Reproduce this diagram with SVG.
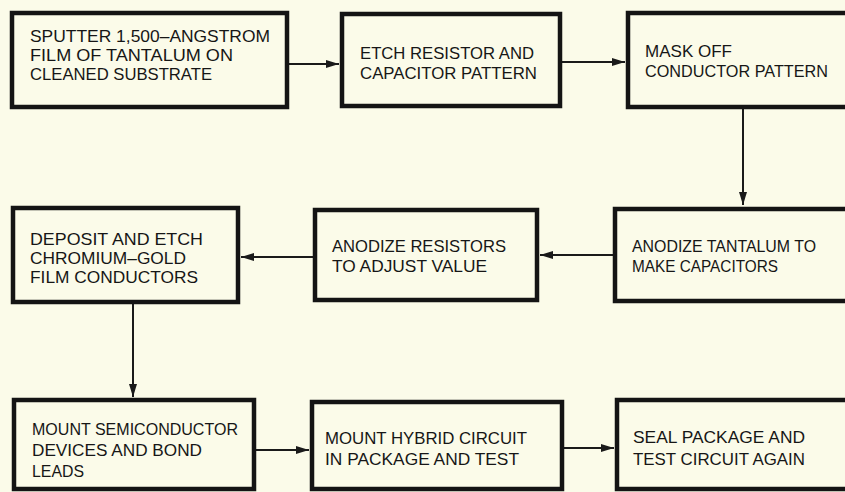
<svg xmlns="http://www.w3.org/2000/svg" width="845" height="492" viewBox="0 0 845 492">
<defs>
<style>
.box{fill:#fbfbe9;stroke:#141414;stroke-width:4.5}
.lbl{font-family:"Liberation Sans",Arial,sans-serif;font-size:17px;fill:#161616}
.conn{stroke:#1a1a1a;stroke-width:2;fill:none}
</style>
<marker id="ah" markerUnits="userSpaceOnUse" markerWidth="14" markerHeight="10" refX="13" refY="4" orient="auto">
<path d="M0,0 L13,4 L0,8 z" fill="#1a1a1a"/>
</marker>
</defs>
<rect width="845" height="492" fill="#fbfbe9"/>
<g id="connectors">
<line class="conn" x1="289" y1="64" x2="339" y2="64" marker-end="url(#ah)"/>
<line class="conn" x1="562" y1="62" x2="625" y2="62" marker-end="url(#ah)"/>
<line class="conn" x1="743" y1="109" x2="743" y2="205" marker-end="url(#ah)"/>
<line class="conn" x1="613" y1="255" x2="540" y2="255" marker-end="url(#ah)"/>
<line class="conn" x1="313" y1="257" x2="241" y2="257" marker-end="url(#ah)"/>
<line class="conn" x1="133" y1="304" x2="133" y2="397" marker-end="url(#ah)"/>
<line class="conn" x1="256" y1="450" x2="309" y2="450" marker-end="url(#ah)"/>
<line class="conn" x1="564" y1="448" x2="614" y2="448" marker-end="url(#ah)"/>
</g>
<g id="n1">
<rect class="box" x="12" y="13" width="275" height="94"/>
<text class="lbl" x="30" y="42" textLength="240" lengthAdjust="spacingAndGlyphs">SPUTTER 1,500–ANGSTROM</text>
<text class="lbl" x="30" y="61" textLength="203" lengthAdjust="spacingAndGlyphs">FILM OF TANTALUM ON</text>
<text class="lbl" x="30" y="80" textLength="182" lengthAdjust="spacingAndGlyphs">CLEANED SUBSTRATE</text>
</g>
<g id="n2">
<rect class="box" x="342" y="14" width="218" height="92"/>
<text class="lbl" x="360" y="59" textLength="174" lengthAdjust="spacingAndGlyphs">ETCH RESISTOR AND</text>
<text class="lbl" x="360" y="79" textLength="177" lengthAdjust="spacingAndGlyphs">CAPACITOR PATTERN</text>
</g>
<g id="n3">
<rect class="box" x="628" y="13" width="222" height="94"/>
<text class="lbl" x="645" y="57" textLength="87" lengthAdjust="spacingAndGlyphs">MASK OFF</text>
<text class="lbl" x="645" y="77" textLength="183" lengthAdjust="spacingAndGlyphs">CONDUCTOR PATTERN</text>
</g>
<g id="n4">
<rect class="box" x="13" y="208" width="225" height="94"/>
<text class="lbl" x="30" y="245" textLength="173" lengthAdjust="spacingAndGlyphs">DEPOSIT AND ETCH</text>
<text class="lbl" x="30" y="264" textLength="156" lengthAdjust="spacingAndGlyphs">CHROMIUM–GOLD</text>
<text class="lbl" x="30" y="283" textLength="168" lengthAdjust="spacingAndGlyphs">FILM CONDUCTORS</text>
</g>
<g id="n5">
<rect class="box" x="315" y="210" width="222" height="90"/>
<text class="lbl" x="332" y="252" textLength="174" lengthAdjust="spacingAndGlyphs">ANODIZE RESISTORS</text>
<text class="lbl" x="332" y="272" textLength="155" lengthAdjust="spacingAndGlyphs">TO ADJUST VALUE</text>
</g>
<g id="n6">
<rect class="box" x="615" y="209" width="235" height="92"/>
<text class="lbl" x="632" y="252" textLength="184" lengthAdjust="spacingAndGlyphs">ANODIZE TANTALUM TO</text>
<text class="lbl" x="632" y="272" textLength="146" lengthAdjust="spacingAndGlyphs">MAKE CAPACITORS</text>
</g>
<g id="n7">
<rect class="box" x="14" y="400" width="240" height="89"/>
<text class="lbl" x="32" y="435" textLength="206" lengthAdjust="spacingAndGlyphs">MOUNT SEMICONDUCTOR</text>
<text class="lbl" x="32" y="456" textLength="170" lengthAdjust="spacingAndGlyphs">DEVICES AND BOND</text>
<text class="lbl" x="32" y="477" textLength="52" lengthAdjust="spacingAndGlyphs">LEADS</text>
</g>
<g id="n8">
<rect class="box" x="312" y="402" width="250" height="87"/>
<text class="lbl" x="325" y="444" textLength="202" lengthAdjust="spacingAndGlyphs">MOUNT HYBRID CIRCUIT</text>
<text class="lbl" x="325" y="465" textLength="194" lengthAdjust="spacingAndGlyphs">IN PACKAGE AND TEST</text>
</g>
<g id="n9">
<rect class="box" x="617" y="400" width="233" height="89"/>
<text class="lbl" x="633" y="443" textLength="172" lengthAdjust="spacingAndGlyphs">SEAL PACKAGE AND</text>
<text class="lbl" x="633" y="465" textLength="172" lengthAdjust="spacingAndGlyphs">TEST CIRCUIT AGAIN</text>
</g>
</svg>
